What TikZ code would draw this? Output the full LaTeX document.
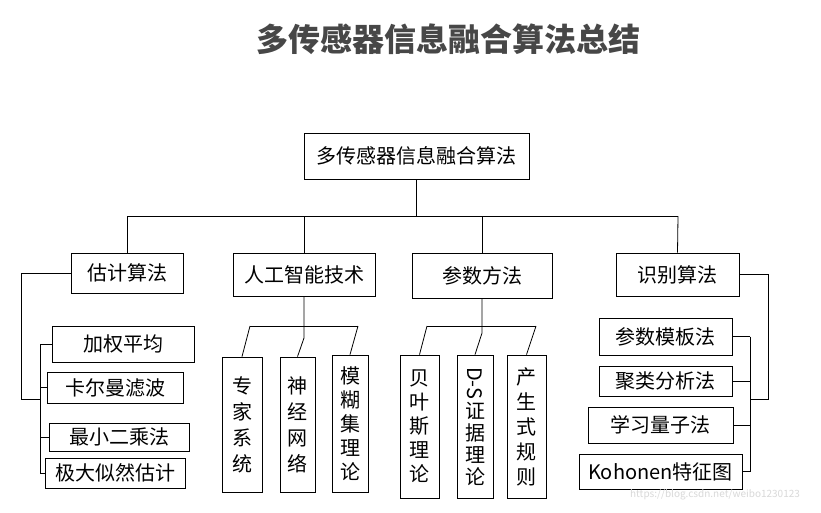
\documentclass[tikz,border=0pt]{standalone}
\usepackage{fontspec}
\setmainfont{Noto Sans CJK SC}
\usepackage{graphicx}
\begin{document}
\begin{tikzpicture}[x=1pt, y=-1pt, line width=0.8pt,
  box/.style={draw, inner sep=0pt, align=center, font=\fontsize{20}{24}\selectfont},
  vbox/.style={box, minimum width=37pt, minimum height=140pt}]
  \useasboundingbox[fill=white] (0,0) rectangle (821,512);
  % title
  \node[font=\fontsize{32}{36}\selectfont\bfseries, text=black!72] (title) at (448,39) {多传感器信息融合算法总结};
  % root and first level
  \node[box, minimum width=225pt, minimum height=46pt] (root) at (416.5,156) {多传感器信息融合算法};
  \node[box, minimum width=112pt, minimum height=40pt] (est) at (127,273) {估计算法};
  \node[box, minimum width=142pt, minimum height=43pt] (ai)  at (304,274.5) {人工智能技术};
  \node[box, minimum width=140pt, minimum height=45pt] (par) at (482,275.5) {参数方法};
  \node[box, minimum width=123pt, minimum height=43pt] (rec) at (677.5,274.5) {识别算法};
  % estimation
  \node[box, minimum width=142pt, minimum height=36pt] (jq) at (123,344) {加权平均};
  \node[box, minimum width=136pt, minimum height=31pt] (kf) at (115,387.5) {卡尔曼滤波};
  \node[box, minimum width=140pt, minimum height=28pt] (ls) at (119,437) {最小二乘法};
  \node[box, minimum width=140pt, minimum height=30pt] (ml) at (115,473) {极大似然估计};
  % AI techniques
  \node[vbox, minimum width=40pt, minimum height=135pt, font=\fontsize{20}{26}\selectfont] (zj) at (242,424.5) {专\\家\\系\\统};
  \node[vbox, minimum width=35pt, minimum height=135pt, font=\fontsize{20}{26}\selectfont] (sj) at (297.5,424.5) {神\\经\\网\\络};
  \node[vbox, minimum width=36pt, minimum height=137pt, font=\fontsize{20}{24}\selectfont] (mh) at (350,423.5) {模\\糊\\集\\理\\论};
  % parameter methods
  \node[vbox, minimum width=39pt, minimum height=143pt] (by) at (419.5,426.5) {贝\\叶\\斯\\理\\论};
  \node[vbox, minimum width=36pt, minimum height=143pt, font=\fontsize{20}{22}\selectfont] (ds) at (475,426.5) {\rotatebox[origin=c]{-90}{D-S}\\[2pt]证\\据\\理\\论};
  \node[vbox, minimum width=39pt, minimum height=143pt, font=\fontsize{20}{25}\selectfont] (cs) at (526.5,426.5) {产\\生\\式\\规\\则};
  % recognition
  \node[box, minimum width=133pt, minimum height=37pt] (cm) at (665.5,336.5) {参数模板法};
  \node[box, minimum width=133pt, minimum height=30pt] (jl) at (665.5,381) {聚类分析法};
  \node[box, minimum width=145pt, minimum height=36pt] (xx) at (660.5,425) {学习量子法};
  \node[box, minimum width=163pt, minimum height=35pt] (kh) at (660.5,471.5) {Kohonen特征图};
  % watermark
  \node[text=black!15, font=\fontsize{10}{12}\selectfont] (wm) at (715,495) {https://blog.csdn.net/weibo1230123};
  % bus
  \coordinate (busL) at (127,216);
  \coordinate (busR) at (678,216);
  \draw (busL) -- (busR);
  \draw (root.south) -- (root.south |- busL);
  \draw (busL) -- (est.north);
  \draw (ai.north |- busL) -- (ai.north);
  \draw (par.north |- busL) -- (par.north);
  \draw (busR) -- (rec.north);
  % estimation bracket
  \coordinate (eL) at (21,399);
  \coordinate (eS) at (40,399);
  \draw (est.west) -| (eL) -- (eS);
  \draw (eS |- jq.west) -- (eS |- ml.west);
  \foreach \n in {jq,kf,ls,ml}
    \draw (eS |- \n.west) -- (\n.west);
  % AI comb
  \coordinate (aL) at (250,326);
  \coordinate (aR) at (358,326);
  \coordinate (aM) at (304,338);
  \draw (aL) -- (aR);
  \draw (ai.south) -- (aM) -- (sj.north);
  \draw (aL) -- (zj.north);
  \draw (aR) -- (mh.north);
  % parameter comb
  \coordinate (pL) at (427,326);
  \coordinate (pR) at (536,326);
  \coordinate (pM) at (482,333);
  \draw (pL) -- (pR);
  \draw (par.south) -- (pM) -- (ds.north);
  \draw (pL) -- (by.north);
  \draw (pR) -- (cs.north);
  % recognition bracket
  \coordinate (rR) at (768,399);
  \coordinate (rS) at (750,399);
  \draw (rec.east) -| (rR) -- (rS);
  \draw (rS |- cm.east) -- (rS |- kh.east);
  \foreach \n in {cm,jl,xx,kh}
    \draw (rS |- \n.east) -- (\n.east);
\end{tikzpicture}
\end{document}
